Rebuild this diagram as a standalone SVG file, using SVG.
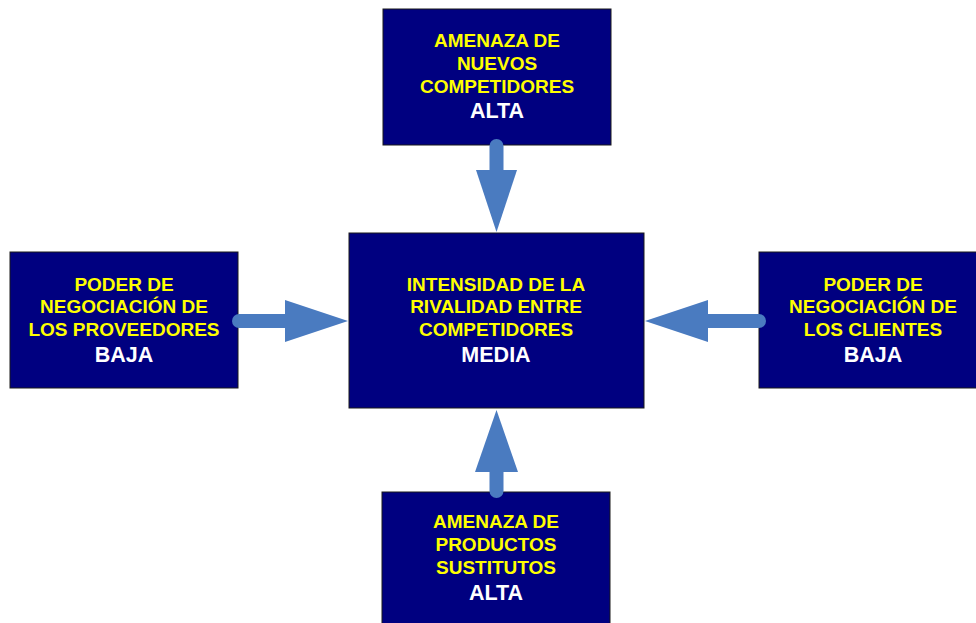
<svg xmlns="http://www.w3.org/2000/svg" width="976" height="623" viewBox="0 0 976 623">
<style>
.box{fill:#000080;stroke:#1a1a1a;stroke-width:1}
.y{fill:#FFFF00;font-family:"Liberation Sans",Arial,sans-serif;font-weight:bold;font-size:19px;text-anchor:middle}
.w{fill:#FFFFFF;font-family:"Liberation Sans",Arial,sans-serif;font-weight:bold;font-size:21.5px;text-anchor:middle}
.shaft{stroke:#4A7BC0;stroke-width:14;stroke-linecap:round;fill:none}
.head{fill:#4A7BC0}
</style>
<rect width="976" height="623" fill="#FFFFFF"/>
<g id="top">
<rect class="box" x="383" y="9" width="228" height="136"/>
<text class="y" x="497" y="47">AMENAZA DE</text>
<text class="y" x="497" y="70">NUEVOS</text>
<text class="y" x="497" y="93">COMPETIDORES</text>
<text class="w" x="497" y="118">ALTA</text>
</g>
<g id="center">
<rect class="box" x="349" y="233" width="295" height="175"/>
<text class="y" x="496" y="291">INTENSIDAD DE LA</text>
<text class="y" x="496" y="313">RIVALIDAD ENTRE</text>
<text class="y" x="496" y="336">COMPETIDORES</text>
<text class="w" x="496" y="362">MEDIA</text>
</g>
<g id="left">
<rect class="box" x="10" y="252" width="228" height="136"/>
<text class="y" x="124" y="291">PODER DE</text>
<text class="y" x="124" y="313">NEGOCIACIÓN DE</text>
<text class="y" x="124" y="336">LOS PROVEEDORES</text>
<text class="w" x="124" y="362">BAJA</text>
</g>
<g id="right">
<rect class="box" x="759" y="252" width="228" height="136"/>
<text class="y" x="873" y="291">PODER DE</text>
<text class="y" x="873" y="313">NEGOCIACIÓN DE</text>
<text class="y" x="873" y="336">LOS CLIENTES</text>
<text class="w" x="873" y="362">BAJA</text>
</g>
<g id="bottom">
<rect class="box" x="382" y="492" width="228" height="140"/>
<text class="y" x="496" y="528">AMENAZA DE</text>
<text class="y" x="496" y="551">PRODUCTOS</text>
<text class="y" x="496" y="574">SUSTITUTOS</text>
<text class="w" x="496" y="600">ALTA</text>
</g>
<g id="connectors">
<line class="shaft" x1="496.5" y1="146" x2="496.5" y2="172"/>
<polygon class="head" points="476,170 517,170 496.5,232"/>
<line class="shaft" x1="239" y1="321" x2="287" y2="321"/>
<polygon class="head" points="285,300 285,342 348,321"/>
<line class="shaft" x1="759" y1="321" x2="706" y2="321"/>
<polygon class="head" points="708,300 708,342 645,321"/>
<line class="shaft" x1="496.5" y1="491" x2="496.5" y2="470"/>
<polygon class="head" points="475,472 518,472 496.5,410"/>
</g>
</svg>
